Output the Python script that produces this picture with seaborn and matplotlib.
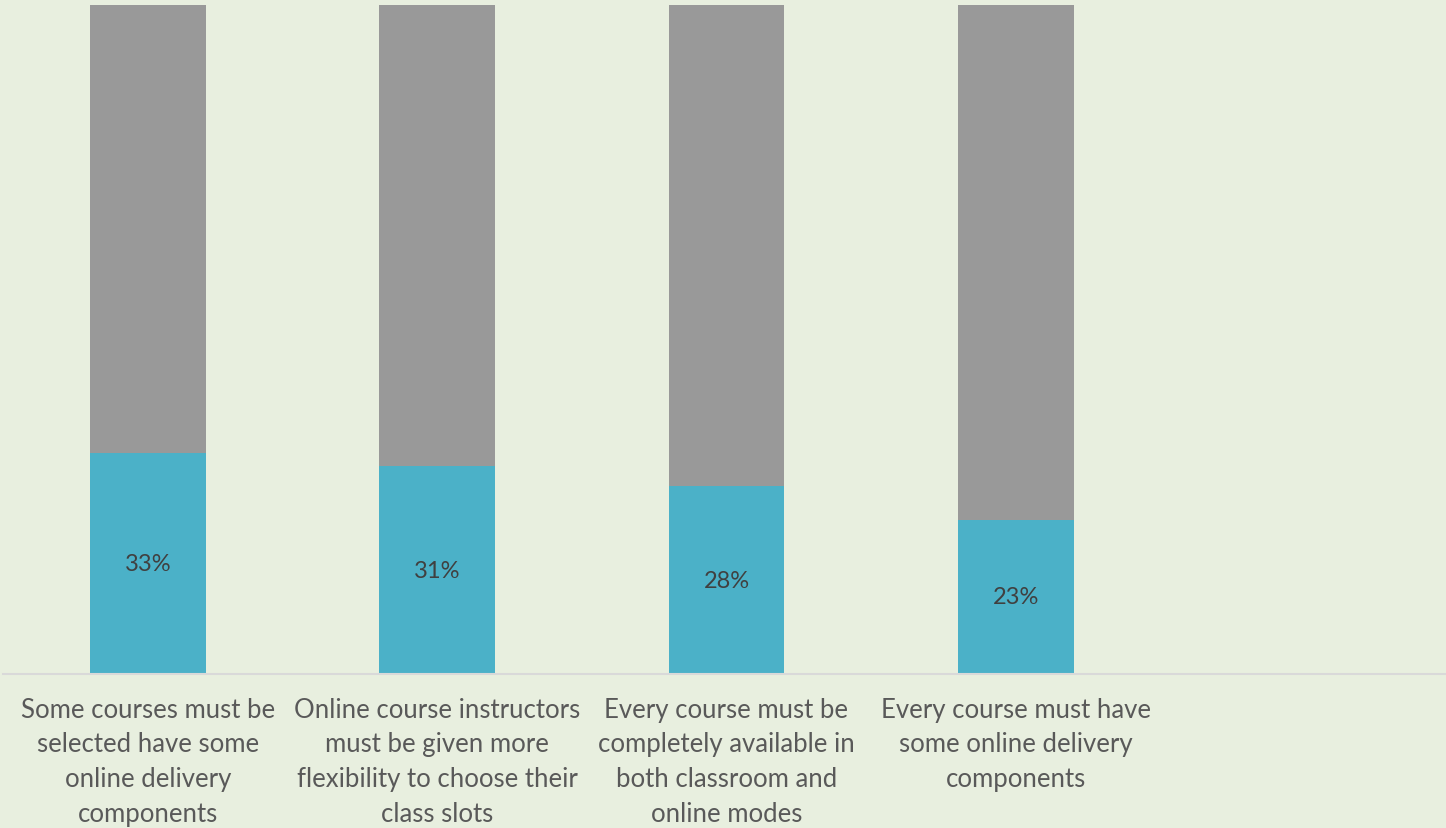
import matplotlib
matplotlib.use("Agg")
import matplotlib.pyplot as plt
import seaborn as sns
import pandas as pd

categories = [
    "Some courses must be\nselected have some\nonline delivery\ncomponents",
    "Online course instructors\nmust be given more\nflexibility to choose their\nclass slots",
    "Every course must be\ncompletely available in\nboth classroom and\nonline modes",
    "Every course must have\nsome online delivery\ncomponents",
]
agree_pct = [33, 31, 28, 23]
rest_pct = [100 - v for v in agree_pct]

bg = "#E8EFDF"
blue = "#4BB1C8"
grey = "#999999"

sns.set_theme(style="white")
plt.rcParams["font.family"] = ["Lato", "DejaVu Sans"]

df = pd.DataFrame({"cat": categories, "agree": agree_pct, "rest": rest_pct})
df["total"] = df["agree"] + df["rest"]

fig = plt.figure(figsize=(14.46, 8.29), dpi=100, facecolor=bg)
ax = fig.add_axes([0.0024, 0.186, 1.0, 0.807])
ax.set_facecolor(bg)

sns.barplot(data=df, x="cat", y="total", color=grey, width=0.4,
            saturation=1, ax=ax, edgecolor="none")
sns.barplot(data=df, x="cat", y="agree", color=blue, width=0.4,
            saturation=1, ax=ax, edgecolor="none")

for i, v in enumerate(agree_pct):
    ax.text(i, v / 2, f"{v}%", ha="center", va="center",
            fontsize=17, color="#404040")

ax.set_xlim(-0.5, 4.5)
ax.set_ylim(0, 100)
ax.set_xlabel("")
ax.set_ylabel("")
ax.set_yticks([])
ax.tick_params(axis="x", length=0, pad=16.5, labelsize=18.5, colors="#595959")
for lbl in ax.get_xticklabels():
    lbl.set_linespacing(1.48)
    lbl.set_verticalalignment("top")

for side in ["top", "right", "left"]:
    ax.spines[side].set_visible(False)
ax.spines["bottom"].set_color("#D9D9D9")
ax.spines["bottom"].set_linewidth(1.5)

fig.savefig("out.png", dpi=100, facecolor=bg)
